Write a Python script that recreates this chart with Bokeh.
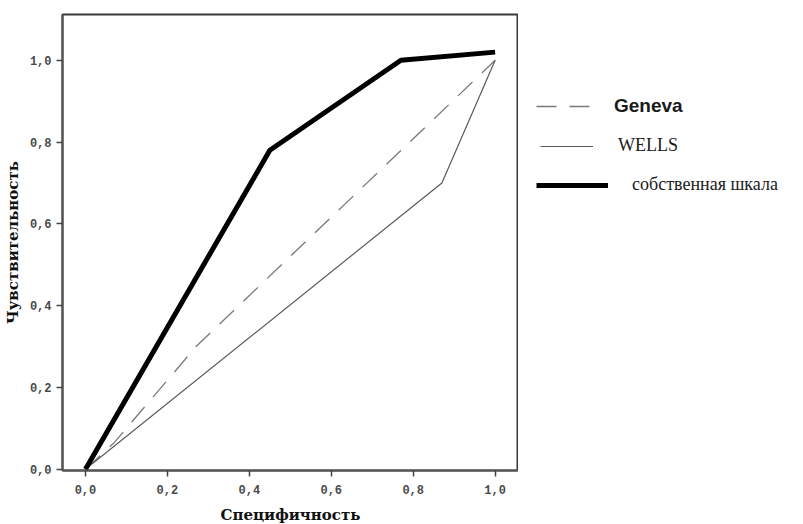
from bokeh.plotting import figure
from bokeh.layouts import row
from bokeh.models import Range1d, FixedTicker, Legend, LegendItem
from bokeh.embed import file_html
from bokeh.resources import INLINE

# ---- data ----
geneva_x = [0.0, 0.07, 0.27, 1.0]
geneva_y = [0.0, 0.065, 0.30, 1.0]

wells_x = [0.0, 0.87, 1.0]
wells_y = [0.0, 0.70, 1.0]

own_x = [0.0, 0.45, 0.77, 1.0]
own_y = [0.0, 0.78, 1.0, 1.02]

x_ticks = [0.0, 0.2, 0.4, 0.6, 0.8, 1.0]
x_tick_labels = ["0,0", "0,2", "0,4", "0,6", "0,8", "1,0"]
y_ticks = [0.0, 0.2, 0.4, 0.6, 0.8, 1.0]
y_tick_labels = ["0,0", "0,2", "0,4", "0,6", "0,8", "1,0"]

series_names = ["Geneva", "WELLS", "собственная шкала"]
x_title = "Специфичность"
y_title = "Чувствительность"

# ---- styles ----
gen_style = dict(line_color="#7a7a7a", line_width=1.3, line_dash="20 13")
wel_style = dict(line_color="#5a5a5a", line_width=1.2)
own_style = dict(line_color="black", line_width=5)

TOP, BOTTOM, LEFT, FRAME = 14, 52, 58, 456

# ---- main plot ----
p = figure(frame_width=FRAME, frame_height=FRAME, output_backend="svg",
           toolbar_location=None,
           x_range=Range1d(-0.056, 1.057), y_range=Range1d(-0.003, 1.112),
           min_border_left=LEFT, min_border_right=0, min_border_top=TOP,
           min_border_bottom=BOTTOM)
p.grid.visible = False
p.outline_line_color = "#3a3a3a"
p.outline_line_width = 2

p.line(geneva_x, geneva_y, **gen_style)
p.line(wells_x, wells_y, **wel_style)
p.line(own_x, own_y, **own_style)

for ax, ticks, labels in ((p.xaxis[0], x_ticks, x_tick_labels),
                          (p.yaxis[0], y_ticks, y_tick_labels)):
    ax.ticker = FixedTicker(ticks=ticks)
    ax.major_label_overrides = dict(zip(ticks, labels))
    ax.minor_tick_line_color = None
    ax.major_tick_in = 0
    ax.major_tick_out = 6
    ax.major_tick_line_color = "#444444"
    ax.major_tick_line_width = 1.5
    ax.axis_line_color = "#555555"
    ax.axis_line_width = 2
    ax.major_label_text_font = "Liberation Mono"
    ax.major_label_text_font_style = "bold"
    ax.major_label_text_font_size = "12px"
    ax.major_label_text_color = "#4a4a4a"
    ax.major_label_standoff = 5
    ax.axis_label_text_font = "DejaVu Serif"
    ax.axis_label_text_font_style = "bold"
    ax.axis_label_text_font_size = "15px"
    ax.axis_label_text_color = "#111111"
    ax.axis_label_standoff = 5

p.xaxis[0].major_label_standoff = 8
p.xaxis[0].axis_label_standoff = 9
p.xaxis[0].axis_label = x_title
p.yaxis[0].axis_label = y_title

# ---- legend panel (separate canvas so nothing is clipped) ----
H = TOP + FRAME + BOTTOM
q = figure(width=275, height=H, output_backend="svg", toolbar_location=None,
           x_axis_type=None, y_axis_type=None,
           x_range=Range1d(10, 11), y_range=Range1d(10, 11),
           min_border=0, outline_line_color=None)
q.grid.visible = False
# same series drawn off-screen: only their legend samples are visible here
lg_gen = q.line(geneva_x, geneva_y, **gen_style)
lg_wel = q.line(wells_x, wells_y, **wel_style)
lg_own = q.line(own_x, own_y, **own_style)

legend_specs = [
    (lg_gen, series_names[0], (18, 349), 60, 18, "Liberation Sans", "bold", "19px"),
    (lg_wel, series_names[1], (22, 310), 53, 25, "Liberation Serif", "normal", "18px"),
    (lg_own, series_names[2], (18, 271), 72, 24, "Liberation Serif", "normal", "18px"),
]
for rend, name, loc, gw, stand, font, style, size in legend_specs:
    leg = Legend(items=[LegendItem(label=name, renderers=[rend])],
                 location=loc, padding=0, margin=0, spacing=0,
                 glyph_width=gw, glyph_height=20, label_height=20,
                 label_standoff=stand,
                 label_text_font=font, label_text_font_style=style,
                 label_text_font_size=size, label_text_color="#1a1a1a",
                 border_line_alpha=0, background_fill_alpha=0)
    q.add_layout(leg)

layout = row(p, q, spacing=0)
open("out.html", "w").write(file_html(layout, INLINE))
